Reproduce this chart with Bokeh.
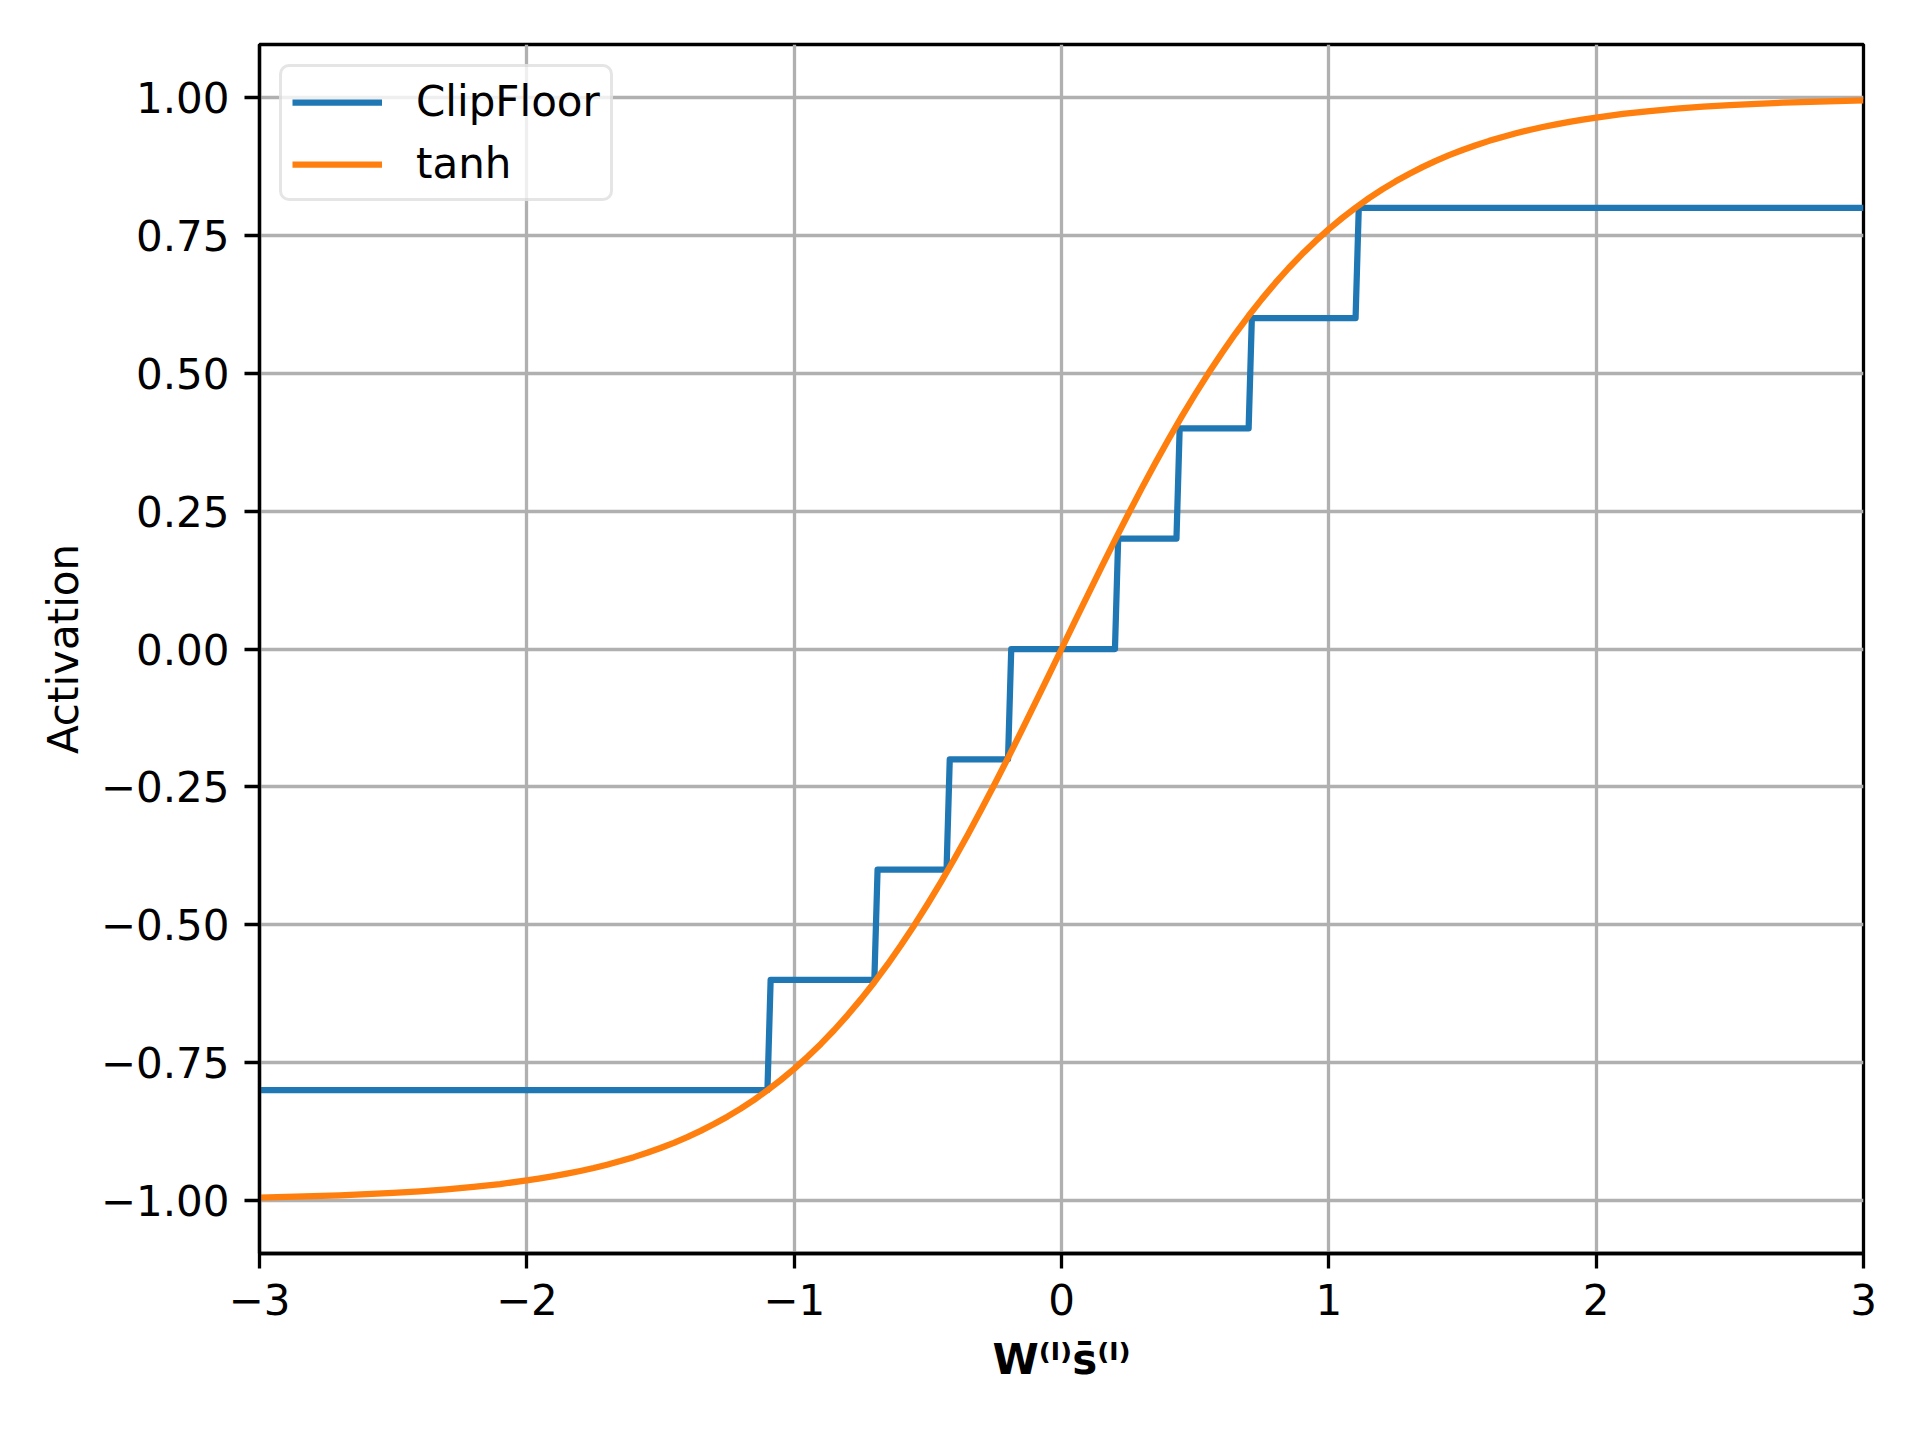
from bokeh.plotting import figure
from bokeh.models import Range1d, FixedTicker, Legend, LegendItem
from bokeh.embed import file_html
from bokeh.resources import INLINE

# ---- data ----
# ClipFloor: piecewise-constant levels and the x positions where they change
clip_edges = [-3.0, -1.10, -0.70, -0.43, -0.20, 0.20, 0.43, 0.70, 1.10, 3.0]
clip_levels = [-0.8, -0.6, -0.4, -0.2, 0.0, 0.2, 0.4, 0.6, 0.8]

# tanh curve samples
tanh_x = [-3.0, -2.9, -2.8, -2.7, -2.6, -2.5, -2.4, -2.3, -2.2, -2.1, -2.0,
          -1.95, -1.9, -1.85, -1.8, -1.75, -1.7, -1.65, -1.6, -1.55, -1.5,
          -1.45, -1.4, -1.35, -1.3, -1.25, -1.2, -1.15, -1.1, -1.05, -1.0,
          -0.95, -0.9, -0.85, -0.8, -0.75, -0.7, -0.65, -0.6, -0.55, -0.5,
          -0.45, -0.4, -0.35, -0.3, -0.25, -0.2, -0.15, -0.1, -0.05, 0.0,
          0.05, 0.1, 0.15, 0.2, 0.25, 0.3, 0.35, 0.4, 0.45, 0.5,
          0.55, 0.6, 0.65, 0.7, 0.75, 0.8, 0.85, 0.9, 0.95, 1.0,
          1.05, 1.1, 1.15, 1.2, 1.25, 1.3, 1.35, 1.4, 1.45, 1.5,
          1.55, 1.6, 1.65, 1.7, 1.75, 1.8, 1.85, 1.9, 1.95, 2.0,
          2.1, 2.2, 2.3, 2.4, 2.5, 2.6, 2.7, 2.8, 2.9, 3.0]
tanh_y = [-0.9951, -0.9940, -0.9926, -0.9910, -0.9890, -0.9866, -0.9837,
          -0.9801, -0.9757, -0.9705, -0.9640,
          -0.9603, -0.9562, -0.9517, -0.9468, -0.9414, -0.9354, -0.9289,
          -0.9217, -0.9138, -0.9051,
          -0.8957, -0.8854, -0.8741, -0.8617, -0.8483, -0.8337, -0.8178,
          -0.8005, -0.7818, -0.7616,
          -0.7398, -0.7163, -0.6911, -0.6640, -0.6351, -0.6044, -0.5717,
          -0.5370, -0.5005, -0.4621,
          -0.4219, -0.3799, -0.3364, -0.2913, -0.2449, -0.1974, -0.1489,
          -0.0997, -0.0500, 0.0,
          0.0500, 0.0997, 0.1489, 0.1974, 0.2449, 0.2913, 0.3364, 0.3799,
          0.4219, 0.4621,
          0.5005, 0.5370, 0.5717, 0.6044, 0.6351, 0.6640, 0.6911, 0.7163,
          0.7398, 0.7616,
          0.7818, 0.8005, 0.8178, 0.8337, 0.8483, 0.8617, 0.8741, 0.8854,
          0.8957, 0.9051,
          0.9138, 0.9217, 0.9289, 0.9354, 0.9414, 0.9468, 0.9517, 0.9562,
          0.9603, 0.9640,
          0.9705, 0.9757, 0.9801, 0.9837, 0.9866, 0.9890, 0.9910, 0.9926,
          0.9940, 0.9951]

x_ticks = [-3, -2, -1, 0, 1, 2, 3]
x_tick_labels = ["\u22123", "\u22122", "\u22121", "0", "1", "2", "3"]
y_ticks = [-1.0, -0.75, -0.5, -0.25, 0.0, 0.25, 0.5, 0.75, 1.0]
y_tick_labels = ["\u22121.00", "\u22120.75", "\u22120.50", "\u22120.25", "0.00",
                 "0.25", "0.50", "0.75", "1.00"]

series_names = ["ClipFloor", "tanh"]
x_label = "W\u207d\u02e1\u207es\u0304\u207d\u02e1\u207e"
y_label = "Activation"

# ---- build step vertices ----
SLANT = 0.012
clip_x = [clip_edges[0]]
clip_y = [clip_levels[0]]
for i in range(1, len(clip_levels)):
    clip_x += [clip_edges[i], clip_edges[i] + SLANT]
    clip_y += [clip_levels[i - 1], clip_levels[i]]
clip_x.append(clip_edges[-1])
clip_y.append(clip_levels[-1])

FONT = "DejaVu Sans"
FS = "42px"
LW = 6.25
THIN = 3.3

p = figure(width=1904, height=1424, output_backend="svg", toolbar_location=None,
           x_range=Range1d(-3, 3), y_range=Range1d(-1.0965, 1.0965),
           min_border_left=259, min_border_right=41, min_border_top=44,
           min_border_bottom=171)
p.background_fill_color = "white"
p.border_fill_color = "white"
p.outline_line_color = "black"
p.outline_line_width = THIN

r_clip = p.line(clip_x, clip_y, line_color="#1f77b4", line_width=LW,
                line_join="round")
r_tanh = p.line(tanh_x, tanh_y, line_color="#ff7f0e", line_width=LW,
                line_join="round")

p.xaxis.ticker = FixedTicker(ticks=x_ticks)
p.yaxis.ticker = FixedTicker(ticks=y_ticks)
p.xaxis.major_label_overrides = dict(zip(x_ticks, x_tick_labels))
p.yaxis.major_label_overrides = dict(zip(y_ticks, y_tick_labels))

for ax in (p.xaxis, p.yaxis):
    ax.axis_line_color = "black"
    ax.axis_line_width = THIN
    ax.major_tick_line_color = "black"
    ax.major_tick_line_width = THIN
    ax.major_tick_out = 15
    ax.major_tick_in = 0
    ax.minor_tick_line_color = None
    ax.major_label_text_font = FONT
    ax.major_label_text_font_size = FS
    ax.major_label_text_color = "black"
    ax.major_label_standoff = 15
    ax.axis_label_text_font = FONT
    ax.axis_label_text_font_size = FS
    ax.axis_label_text_color = "black"

p.xaxis.axis_label = x_label
p.xaxis.axis_label_text_font_style = "bold"
p.xaxis.axis_label_standoff = 17
p.yaxis.axis_label = y_label
p.yaxis.axis_label_text_font_style = "normal"
p.yaxis.axis_label_standoff = 10

p.grid.grid_line_color = "#b0b0b0"
p.grid.grid_line_width = THIN

legend = Legend(items=[LegendItem(label=series_names[0], renderers=[r_clip]),
                       LegendItem(label=series_names[1], renderers=[r_tanh])],
                location="top_left", margin=20, padding=10, spacing=13,
                glyph_width=90, glyph_height=44, label_height=44,
                label_standoff=34, label_text_font=FONT,
                label_text_font_size=FS, label_text_color="black",
                border_line_color="#cccccc", border_line_width=THIN,
                background_fill_color="white", background_fill_alpha=0.8)
if "border_radius" in Legend.properties():
    legend.border_radius = 10
p.add_layout(legend, "center")

open("out.html", "w").write(file_html(p, INLINE))
